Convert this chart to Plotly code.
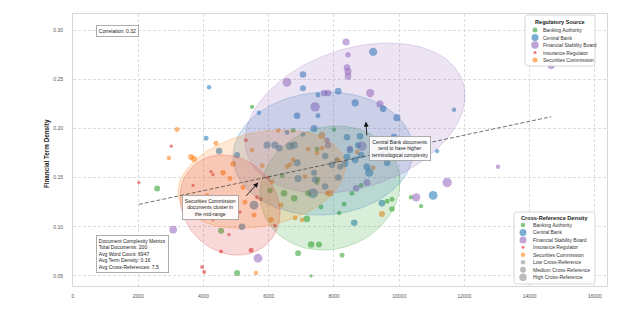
import numpy as np
import plotly.graph_objects as go

# ---------------------------------------------------------------- data
SOURCES = ["Banking Authority", "Central Bank", "Financial Stability Board",
           "Insurance Regulator", "Securities Commission"]

# Banking Authority
banking_words = [2580, 5490, 8000, 6750, 7480, 7170, 7300, 7540, 8250, 8310,
                 8830, 9630, 9780, 9780, 10360, 10670, 7300, 4540, 5030, 6900,
                 6470, 6780, 7210, 7510, 7600, 6410, 7480, 8160, 6040, 8550]
banking_density = [0.139, 0.222, 0.199, 0.198, 0.179, 0.108, 0.082, 0.082, 0.071, 0.123,
                   0.142, 0.126, 0.128, 0.118, 0.130, 0.121, 0.050, 0.096, 0.053, 0.073,
                   0.134, 0.129, 0.134, 0.148, 0.120, 0.152, 0.145, 0.114, 0.137, 0.134]
banking_refs = [7, 4, 4, 5, 5, 8, 8, 7, 5, 5,
                5, 5, 5, 6, 4, 4, 2, 7, 7, 7,
                8, 8, 7, 5, 5, 5, 5, 4, 6, 5]

# Central Bank
central_words = [4170, 7050, 9200, 7050, 8130, 7510, 5700, 6870, 8650, 7510,
                 9510, 9930, 7390, 11680, 11160, 4080, 8400, 8800, 9840, 8740,
                 8490, 8400, 8650, 9010, 9080, 9630, 7050, 6560, 5950, 6190,
                 6320, 6650, 6780, 4480, 11040, 9470, 8620, 7360, 8830, 8340,
                 8190, 8090, 5550, 5180, 6900, 7420, 5030, 6870, 7730, 7940,
                 7390, 7730, 8130]
central_density = [0.242, 0.255, 0.278, 0.241, 0.238, 0.234, 0.216, 0.213, 0.226, 0.213,
                   0.220, 0.211, 0.200, 0.219, 0.177, 0.190, 0.191, 0.192, 0.191, 0.183,
                   0.178, 0.171, 0.168, 0.161, 0.155, 0.165, 0.194, 0.196, 0.183, 0.183,
                   0.180, 0.182, 0.183, 0.177, 0.132, 0.124, 0.104, 0.134, 0.173, 0.164,
                   0.161, 0.168, 0.122, 0.100, 0.149, 0.148, 0.173, 0.165, 0.172, 0.163,
                   0.155, 0.141, 0.150]
central_refs = [4, 8, 11, 7, 8, 5, 4, 8, 9, 5,
                8, 9, 9, 4, 4, 5, 8, 8, 9, 7,
                8, 9, 8, 9, 11, 8, 5, 5, 9, 9,
                8, 10, 9, 8, 12, 8, 8, 14, 8, 8,
                7, 6, 12, 8, 9, 8, 7, 9, 8, 8,
                7, 8, 8]

# Financial Stability Board
fsb_words = [8370, 8430, 8400, 8430, 8430, 6560, 7700, 7820, 9110, 7420,
             9410, 7790, 8860, 8490, 14660, 13030, 11470, 10520, 9010, 8680,
             3070, 5670, 7820]
fsb_density = [0.288, 0.275, 0.262, 0.258, 0.253, 0.247, 0.236, 0.236, 0.236, 0.222,
               0.225, 0.188, 0.182, 0.180, 0.264, 0.161, 0.145, 0.130, 0.145, 0.139,
               0.097, 0.068, 0.183]
fsb_refs = [9, 6, 8, 9, 8, 12, 8, 8, 11, 13,
            9, 6, 13, 6, 9, 4, 13, 11, 9, 8,
            10, 12, 8]

# Insurance Regulator
insurance_words = [2020, 3010, 4230, 4290, 4540, 5460, 3960, 4020, 5640, 5760,
                   4780, 4290, 5300, 3680, 5120, 5980, 3860, 6190]
insurance_density = [0.145, 0.182, 0.156, 0.153, 0.075, 0.076, 0.059, 0.054, 0.130, 0.128,
                     0.092, 0.107, 0.188, 0.142, 0.115, 0.150, 0.114, 0.101]
insurance_refs = [2, 2, 2, 2, 3, 5, 3, 3, 3, 3,
                  2, 2, 3, 2, 2, 3, 2, 3]

# Securities Commission
securities_words = [3190, 2940, 3620, 3710, 4380, 4910, 4600, 6290, 7630, 7210,
                    7480, 6560, 6750, 9200, 4810, 5210, 5270, 5550, 6070, 6100,
                    6810, 7020, 7790, 7630, 6650, 7110, 9470, 7880, 5610, 5800,
                    6380, 4110, 5490, 8130, 8710]
securities_density = [0.199, 0.170, 0.171, 0.169, 0.185, 0.164, 0.155, 0.198, 0.193, 0.179,
                      0.175, 0.161, 0.168, 0.160, 0.149, 0.140, 0.125, 0.112, 0.107, 0.146,
                      0.109, 0.107, 0.134, 0.180, 0.163, 0.151, 0.113, 0.134, 0.053, 0.162,
                      0.122, 0.132, 0.178, 0.168, 0.176]
securities_refs = [5, 4, 7, 7, 5, 6, 6, 4, 9, 5,
                   5, 5, 5, 5, 5, 5, 5, 5, 6, 5,
                   5, 5, 5, 5, 5, 5, 7, 8, 4, 5,
                   5, 4, 5, 4, 5]

WORDS = [banking_words, central_words, fsb_words, insurance_words, securities_words]
DENSITY = [banking_density, central_density, fsb_density, insurance_density, securities_density]
REFS = [banking_refs, central_refs, fsb_refs, insurance_refs, securities_refs]

# confidence-ellipse statistics per source (means, std devs, correlation)
ell_mean_words = [7880, 7665, 8646, 4814, 5779]
ell_mean_density = [0.1394, 0.1745, 0.2106, 0.1221, 0.1485]
ell_sd_words = [1073, 1380, 1686, 767, 1280]
ell_sd_density = [0.0316, 0.0313, 0.0382, 0.0255, 0.0250]
ell_corr = [0.10, 0.05, 0.30, -0.15, 0.25]
N_STD = 2.0

# linear trend of density on word count
TREND_SLOPE = 7.06e-6
TREND_INTERCEPT = 0.1085

X_TICKS = [0, 2000, 4000, 6000, 8000, 10000, 12000, 14000, 16000]
Y_TICKS = [0.05, 0.10, 0.15, 0.20, 0.25, 0.30]

SIZE_LEVELS = ["Low Cross-Reference", "Medium Cross-Reference", "High Cross-Reference"]

# ---------------------------------------------------------------- styling
FONT = "Liberation Sans, Arial, sans-serif"
RGB = [(44, 160, 44), (31, 119, 180), (148, 103, 189), (214, 39, 40), (255, 127, 14)]
REG_LEGEND_SIZE = [5, 7, 7.5, 3, 5]
XREF_LEGEND_SIZE = [4.5, 7, 7, 3, 4.5]
LEVEL_LEGEND_SIZE = [4.5, 6, 7.5]

FIG_W, FIG_H = 630, 327
PLOT_L, PLOT_T, PLOT_W, PLOT_H = 73, 14, 534, 272


def rgba(c, a):
    return f"rgba({c[0]},{c[1]},{c[2]},{a})"


def fx(px):
    return (px - PLOT_L) / PLOT_W


def fy(py):
    return (PLOT_T + PLOT_H - py) / PLOT_H


def marker_px(refs):
    return [2.2 + 0.55 * r for r in refs]


fig = go.Figure()

# document points
for i, name in enumerate(SOURCES):
    fig.add_trace(go.Scatter(
        x=WORDS[i], y=DENSITY[i], mode="markers", name=name,
        marker=dict(color=rgba(RGB[i], 0.8), size=marker_px(REFS[i]), line=dict(width=0)),
        showlegend=False, hoverinfo="skip"))

# confidence ellipses, drawn over the points
t = np.linspace(0, 2 * np.pi, 160)
for i, name in enumerate(SOURCES):
    r = ell_corr[i]
    ex = ell_mean_words[i] + N_STD * ell_sd_words[i] * np.cos(t)
    ey = ell_mean_density[i] + N_STD * ell_sd_density[i] * (r * np.cos(t) + np.sqrt(1 - r * r) * np.sin(t))
    fig.add_trace(go.Scatter(
        x=ex, y=ey, mode="lines", fill="toself",
        fillcolor=rgba(RGB[i], 0.18), line=dict(color=rgba(RGB[i], 0.32), width=0.8),
        showlegend=False, hoverinfo="skip"))

# trend line across the observed word-count range
all_words = np.concatenate([np.asarray(w) for w in WORDS])
tx = np.array([all_words.min(), all_words.max()])
fig.add_trace(go.Scatter(
    x=tx, y=TREND_INTERCEPT + TREND_SLOPE * tx, mode="lines",
    line=dict(color="rgba(60,60,60,0.8)", width=0.9, dash="4px,2px"),
    showlegend=False, hoverinfo="skip"))


# ---------------------------------------------------------------- legends
def rounded_box(x0, y0, x1, y1, rad=3):
    pts = []
    corners = [(x1 - rad, y0 + rad, -np.pi / 2, 0), (x1 - rad, y1 - rad, 0, np.pi / 2),
               (x0 + rad, y1 - rad, np.pi / 2, np.pi), (x0 + rad, y0 + rad, np.pi, 1.5 * np.pi)]
    for cx, cy, a0, a1 in corners:
        for a in np.linspace(a0, a1, 6):
            pts.append((cx + rad * np.cos(a), cy + rad * np.sin(a)))
    pts.append(pts[0])
    return [fx(p[0]) for p in pts], [fy(p[1]) for p in pts]


def add_legend(title, items, box, title_y, row0, step, marker_x, text_x):
    x0, y0, x1, y1 = box
    bx, by = rounded_box(x0, y0, x1, y1)
    fig.add_trace(go.Scatter(
        x=bx, y=by, xaxis="x2", yaxis="y2", mode="lines", fill="toself",
        fillcolor="rgba(255,255,255,0.93)", line=dict(color="#cccccc", width=0.8),
        showlegend=False, hoverinfo="skip"))
    ys = [row0 + k * step for k in range(len(items))]
    fig.add_trace(go.Scatter(
        x=[fx(marker_x)] * len(items), y=[fy(v) for v in ys], xaxis="x2", yaxis="y2",
        mode="markers", marker=dict(color=[it[1] for it in items], size=[it[2] for it in items],
                                    line=dict(width=0)),
        showlegend=False, hoverinfo="skip", cliponaxis=False))
    fig.add_annotation(text=f"<b>{title}</b>", x=fx((x0 + x1) / 2), y=fy(title_y),
                       xref="paper", yref="paper", showarrow=False, xanchor="center",
                       yanchor="middle", font=dict(size=5.6, color="#222", family=FONT))
    for it, v in zip(items, ys):
        fig.add_annotation(text=it[0], x=fx(text_x), y=fy(v), xref="paper", yref="paper",
                           showarrow=False, xanchor="left", yanchor="middle",
                           font=dict(size=5, color="#333", family=FONT))


reg_items = [(SOURCES[i], rgba(RGB[i], 0.85), REG_LEGEND_SIZE[i]) for i in range(5)]
add_legend("Regulatory Source", reg_items, (525, 15, 595, 66), 22, 30, 7.5, 535, 541)

xref_items = [(SOURCES[i], rgba(RGB[i], 0.85), XREF_LEGEND_SIZE[i]) for i in range(5)]
xref_items += [(SIZE_LEVELS[k], "rgba(128,128,128,0.75)", LEVEL_LEGEND_SIZE[k]) for k in range(3)]
add_legend("Cross-Reference Density", xref_items, (514, 212, 595, 284), 218, 225, 7.45, 523, 531)

# ---------------------------------------------------------------- text boxes
box_style = dict(bgcolor="rgba(255,255,255,0.9)", bordercolor="#9a9a9a", borderwidth=0.8,
                 borderpad=2, font=dict(size=5, color="#222", family=FONT), showarrow=False)

fig.add_annotation(text="Correlation: 0.32", x=fx(96), y=fy(25), xref="paper", yref="paper",
                   xanchor="left", yanchor="top", **box_style)

fig.add_annotation(
    text="Document Complexity Metrics<br>Total Documents: 200<br>Avg Word Count: 6947"
         "<br>Avg Term Density: 0.16<br>Avg Cross-References: 7.5",
    x=fx(96), y=fy(273), xref="paper", yref="paper", xanchor="left", yanchor="bottom",
    align="left", **box_style)

# callouts with arrows (text box + separate arrow)
fig.add_annotation(text="Central Bank documents<br>tend to have higher<br>terminological complexity",
                   x=10030, y=0.1800, xref="x", yref="y", xanchor="center", yanchor="middle",
                   align="center", **box_style)
fig.add_annotation(text="", x=8980, y=0.2070, ax=9010, ay=0.1915, xref="x", yref="y",
                   axref="x", ayref="y", showarrow=True, arrowhead=2, arrowsize=1.1,
                   arrowwidth=0.9, arrowcolor="#111", standoff=0, startstandoff=0)

fig.add_annotation(text="Securities Commission<br>documents cluster in<br>the mid-range",
                   x=4220, y=0.1195, xref="x", yref="y", xanchor="center", yanchor="middle",
                   align="center", **box_style)
fig.add_annotation(text="", x=5680, y=0.1450, ax=5270, ay=0.1300, xref="x", yref="y",
                   axref="x", ayref="y", showarrow=True, arrowhead=2, arrowsize=1.1,
                   arrowwidth=0.9, arrowcolor="#111", standoff=0, startstandoff=0)

# y-axis title
fig.add_annotation(text="<b>Financial Term Density</b>", x=fx(47), y=0.485, xref="paper",
                   yref="paper", textangle=-90, showarrow=False, xanchor="center",
                   yanchor="middle", font=dict(size=6.3, color="#222", family=FONT))

# ---------------------------------------------------------------- layout
axis_common = dict(showgrid=True, gridcolor="#dddddd", gridwidth=0.7, griddash="3px,2px",
                   zeroline=False, showline=True, linecolor="#d6d6d6", linewidth=1,
                   mirror=True, ticks="", tickfont=dict(size=5, color="#555", family=FONT))

fig.update_layout(
    width=FIG_W, height=FIG_H,
    margin=dict(l=PLOT_L, r=FIG_W - PLOT_L - PLOT_W, t=PLOT_T, b=FIG_H - PLOT_T - PLOT_H),
    paper_bgcolor="white", plot_bgcolor="white",
    showlegend=False, hovermode=False,
    font=dict(family=FONT),
    xaxis=dict(range=[0, 16370], tickvals=X_TICKS, ticktext=[str(v) for v in X_TICKS],
               ticklabelstandoff=5, **axis_common),
    yaxis=dict(range=[0.0397, 0.3165], tickvals=Y_TICKS, ticktext=[f"{v:.2f}" for v in Y_TICKS],
               ticklabelstandoff=8, **axis_common),
    xaxis2=dict(overlaying="x", range=[0, 1], visible=False, fixedrange=True),
    yaxis2=dict(overlaying="y", range=[0, 1], visible=False, fixedrange=True),
)

fig.write_html("out.html")
